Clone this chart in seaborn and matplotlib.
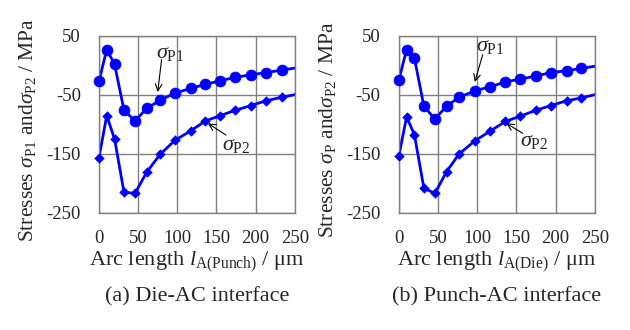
import matplotlib
matplotlib.use("Agg")
import matplotlib.pyplot as plt
import seaborn as sns
import pandas as pd

# arc length positions (um) and stresses (MPa)
x_die = [0, 10, 20, 32, 46, 61, 78, 97, 117, 136, 155, 174, 194, 213, 233, 252]
p1_die = [-27, 27, 2, -76, -94, -73, -59, -47, -39, -32, -26, -20, -16, -12, -8, -4]
p2_die = [-157, -85, -125, -215, -217, -181, -151, -127, -111, -94, -85, -76, -68, -60, -54, -49]

x_punch = [0, 10, 20, 32, 46, 61, 77, 97, 117, 136, 155, 175, 194, 214, 233, 252]
p1_punch = [-25, 27, 12, -69, -91, -69, -54, -43, -36, -28, -23, -18, -12, -9, -5, -1]
p2_punch = [-154, -87, -118, -208, -217, -180, -150, -128, -111, -95, -86, -76, -68, -60, -55, -49]

xlabels = [r"Arc length $l_{\rm A(Punch)}$ / μm", r"Arc length $l_{\rm A(Die)}$ / μm"]
ylabels = [r"Stresses $\sigma_{\rm P1}$ and$\sigma_{\rm P2}$ / MPa",
           r"Stresses $\sigma_{\rm P}$ and$\sigma_{\rm P2}$ / MPa"]
captions = ["(a) Die-AC interface", "(b) Punch-AC interface"]

sns.set_theme(style="white")
plt.rcParams["font.family"] = ["Liberation Serif", "DejaVu Serif"]
plt.rcParams["mathtext.fontset"] = "custom"
plt.rcParams["mathtext.rm"] = "Liberation Serif"
plt.rcParams["mathtext.it"] = "Liberation Serif:italic"
plt.rcParams["axes.unicode_minus"] = False

fig = plt.figure(figsize=(6.3, 3.3), dpi=100)
axes = [fig.add_axes([0.157, 0.355, 0.311, 0.536]),
        fig.add_axes([0.633, 0.355, 0.311, 0.536])]

panels = [(x_die, p1_die, p2_die), (x_punch, p1_punch, p2_punch)]
# (text position, arrow tip, arrow tail) in data units
notes = [
    [((73, 20), (75, -45), (80, 10)),
     ((157, -135), (139, -98), (162, -118))],
    [((99, 32), (97, -28), (107, 18)),
     ((155, -129), (137, -98), (158, -115))],
]

blue = "#0000ff"
for i, ax in enumerate(axes):
    xs, s1, s2 = panels[i]
    df = pd.DataFrame({"x": xs, "p1": s1, "p2": s2})
    inside = df[df["x"] <= 250]
    sns.lineplot(data=df, x="x", y="p1", ax=ax, color=blue, lw=2, sort=False)
    sns.lineplot(data=df, x="x", y="p2", ax=ax, color=blue, lw=2, sort=False)
    sns.scatterplot(data=inside, x="x", y="p1", ax=ax, color=blue, marker="o",
                    s=60, edgecolor=blue, clip_on=False, zorder=4)
    sns.scatterplot(data=inside, x="x", y="p2", ax=ax, color=blue, marker="D",
                    s=24, edgecolor=blue, clip_on=False, zorder=4)

    ax.set_xlim(0, 250)
    ax.set_ylim(-250, 50)
    ax.set_xticks([0, 50, 100, 150, 200, 250])
    ax.set_yticks([50, -50, -150, -250])
    ax.grid(True, color="#808080", lw=1)
    for sp in ax.spines.values():
        sp.set_color("#808080")
        sp.set_linewidth(1)
    ax.tick_params(length=0, labelsize=13.5)
    ax.tick_params(axis="x", pad=12)
    ax.tick_params(axis="y", pad=13)
    ax.set_xlabel(xlabels[i], fontsize=16)
    ax.xaxis.label.set_va("center")
    ax.xaxis.set_label_coords(0.5, -0.275)
    ax.set_ylabel(ylabels[i], fontsize=15.5)
    ax.yaxis.label.set_va("center")
    ax.yaxis.set_label_coords(-0.362, 0.469)

    for label, (txt, tip, tail) in zip([r"$\sigma_{\rm P1}$", r"$\sigma_{\rm P2}$"], notes[i]):
        ax.text(txt[0], txt[1], label, fontsize=16, ha="left", va="center")
        ax.annotate("", xy=tip, xytext=tail,
                    arrowprops=dict(arrowstyle="->", color="black", lw=0.8,
                                    shrinkA=0, shrinkB=0))
    ax.text(0.5, -0.475, captions[i], transform=ax.transAxes, ha="center",
            va="center", fontsize=16)

fig.savefig("out.png", dpi=100)
